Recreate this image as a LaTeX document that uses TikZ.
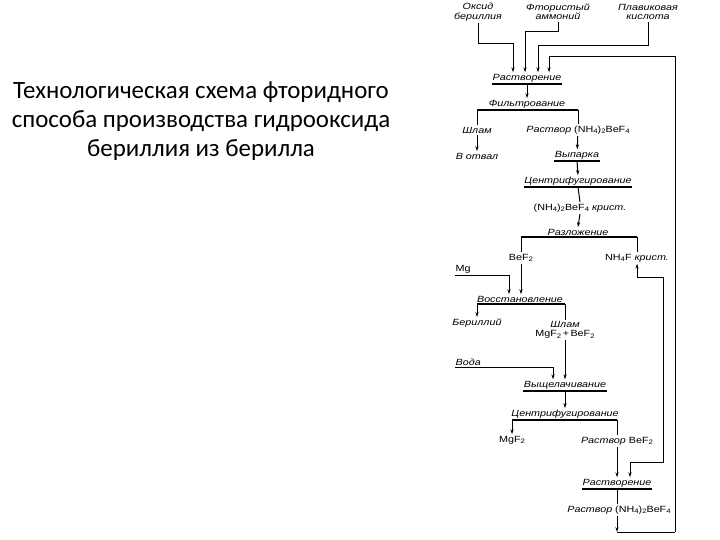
\documentclass[tikz,border=0pt]{standalone}
\usepackage{fontspec}
\setmainfont{Liberation Sans}
\newfontfamily\headfont{Carlito}
\newfontfamily\schemefont[FakeStretch=1.2]{Liberation Sans}
\usetikzlibrary{arrows.meta,calc}
\newcommand{\sbs}[1]{\raisebox{-0.35ex}{\fontsize{6.5}{6.5}\selectfont #1}}

\begin{document}
\begin{tikzpicture}[x=1bp,y=-1bp,
  lbl/.style={font=\schemefont\fontsize{9}{9.5}\selectfont\itshape,inner xsep=0.5pt,inner ysep=1.5pt,align=center},
  chem/.style={font=\schemefont\fontsize{9}{9.5}\selectfont,inner xsep=0.5pt,inner ysep=1.5pt,align=center},
  ln/.style={line width=1pt},
  bar/.style={line width=2pt},
  arr/.style={ln,-{Stealth[length=5pt,width=3.2pt]}}]
\useasboundingbox (0,0) rectangle (720,540);
\node[font=\headfont\fontsize{25}{29}\selectfont,align=center] (title) at (201,121)
  {Технологическая схема фторидного\\способа производства гидрооксида\\бериллия из берилла};

% feeds
\node[lbl] (oxide) at (478,12) {Оксид\\бериллия};
\node[lbl] (fluor) at (558,12) {Фтористый\\аммоний};
\node[lbl] (acid) at (648,12) {Плавиковая\\кислота};
\node[lbl] (rast1) at (527,78) {Растворение};
\node[lbl] (filt) at (527,104) {Фильтрование};
\node[lbl] (slag1) at (477,130) {Шлам};
\node[lbl] (dump) at (477,156) {В отвал};
\node[lbl] (sol1) at (578,130) {Раствор \textup{(NH\sbs4)\sbs2BeF\sbs4}};
\node[lbl] (vyp) at (577,155) {Выпарка};
\node[lbl] (centr1) at (578,181) {Центрифугирование};
\node[chem] (kryst) at (580,208) {(NH\sbs4)\sbs2BeF\sbs4 \textit{крист.}};
\node[lbl] (razl) at (578,232) {Разложение};
\node[chem] (bef2) at (521,258) {BeF\sbs2};
\node[chem] (nh4f) at (637,258) {NH\sbs4F \textit{крист.}};
\node[chem,anchor=south west] (mg) at (455,275) {Mg};
\node[lbl] (vosst) at (520,299) {Восстановление};
\node[lbl] (beryl) at (477,323) {Бериллий};
\node[lbl] (slag2) at (565,330) {Шлам\\\textup{MgF\sbs2\,+\,BeF\sbs2}};
\node[lbl,anchor=south west] (water) at (455,367) {Вода};
\node[lbl] (vysh) at (565,385) {Выщелачивание};
\node[lbl] (centr2) at (565,414) {Центрифугирование};
\node[chem] (mgf2) at (512,440) {MgF\sbs2};
\node[lbl] (solb) at (617,441) {Раствор \textup{BeF\sbs2}};
\node[lbl] (rast2) at (617,483) {Растворение};
\node[lbl] (solf) at (619,510) {Раствор \textup{(NH\sbs4)\sbs2BeF\sbs4}};

\coordinate (loopbot) at (675,532);
\coordinate (looptop) at (675,57);
\coordinate (nhbend) at (663,277);
\coordinate (nhlow) at (663,462);

% bars
\draw[bar] (rast1.south west) -- (rast1.south east);
\draw[bar] (filt.south -| slag1) -- (filt.south -| sol1);
\draw[bar] (vyp.south west) -- (vyp.south east);
\draw[bar] (centr1.south west) -- (centr1.south east);
\draw[bar] (razl.south -| bef2) -- (razl.south -| nh4f);
\draw[bar] (vosst.south -| beryl) -- (vosst.south -| slag2);
\draw[bar] (vysh.south west) -- (vysh.south east);
\draw[bar] (centr2.south -| mgf2) -- (centr2.south -| solb);
\draw[bar] (rast2.south west) -- (rast2.south east);

% feed lines
\draw[arr] (oxide.south) -- ++(0,21) -| (rast1.north -| 513,0);
\draw[arr] (fluor.south) -- ++(0,10) -| (rast1.north -| 525,0);
\draw[arr] (acid.south) -- ++(0,24) -| (rast1.north -| 538,0);
\draw[arr] (loopbot) -- (looptop) -| (rast1.north -| 549,0);

% main flow
\draw[arr] (rast1.south) -- (filt.north);
\draw[ln] (filt.south -| slag1) -- (slag1);
\draw[ln] (filt.south -| sol1) -- (sol1);
\draw[arr] (slag1) -- (dump);
\draw[arr] (sol1) -- (vyp);
\draw[arr] (vyp.south) -- (centr1.north);
\draw[ln] (centr1.south) -- (kryst.north);
\draw[arr] (kryst.south) -- (razl.north);
\draw[ln] (razl.south -| bef2) -- (bef2);
\draw[ln] (razl.south -| nh4f) -- (nh4f);
\draw[arr] (bef2) -- (vosst.north -| bef2);
\draw[arr] (mg.south west) -| (vosst.north -| 509,0);
\draw[arr] (nhbend) -| (nh4f.south);
\draw[arr] (nhbend) -- (nhlow) -| (rast2.north -| 630,0);
\draw[arr] (vosst.south -| beryl) -- (beryl);
\draw[ln] (vosst.south -| slag2) -- (slag2);
\draw[arr] (slag2.south) -- (vysh.north);
\draw[arr] (water.south west) -| (vysh.north -| 553,0);
\draw[arr] (vysh.south) -- (centr2.north);
\draw[arr] (centr2.south -| mgf2) -- (mgf2);
\draw[ln] (centr2.south -| solb) -- (solb);
\draw[arr] (solb) -- (rast2);
\draw[ln] (rast2.south) -- (solf.north -| rast2);
\draw[arr] (solf.south -| rast2) -- (rast2 |- loopbot);
\draw[ln] (rast2 |- loopbot) -- (loopbot);
\end{tikzpicture}
\end{document}
